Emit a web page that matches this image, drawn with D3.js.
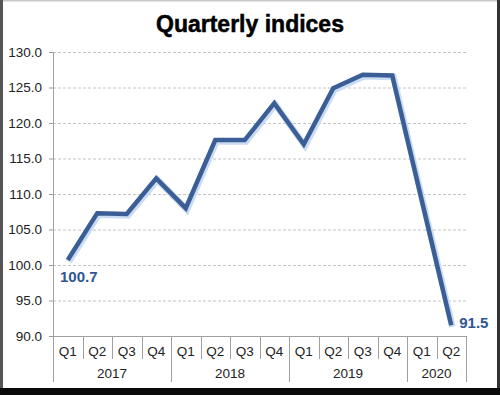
<!doctype html>
<html>
<head>
    <style>
        body { margin: 0; background: #fff; }
        svg { display: block; }
        text { font-family: "Liberation Sans", Arial, sans-serif; }
    </style>
    <script src="https://d3js.org/d3.v7.min.js"></script>
</head>
<body>
    <svg width="500" height="395"></svg>
    <script>
        var years = ["2017", "2018", "2019", "2020"];
        var quarters = ["Q1", "Q2", "Q3", "Q4", "Q1", "Q2", "Q3", "Q4", "Q1", "Q2", "Q3", "Q4", "Q1", "Q2"];
        var quarterYears = ["2017", "2017", "2017", "2017", "2018", "2018", "2018", "2018",
                            "2019", "2019", "2019", "2019", "2020", "2020"];
        var values = [100.7, 107.3, 107.2, 112.2, 108.0, 117.6, 117.6, 122.8,
                      117.0, 124.9, 126.8, 126.7, 109.1, 91.5];
        var yTicks = [90, 95, 100, 105, 110, 115, 120, 125, 130];

        var svg = d3.select("svg"),
            margin = { top: 52, right: 34, bottom: 59, left: 53 },
            width = 500 - margin.left - margin.right,
            height = 395 - margin.top - margin.bottom;

        // frame: dark edges and black band at the bottom
        svg.append("rect").attr("x", 0).attr("y", 0).attr("width", 500).attr("height", 395).attr("fill", "#fff");
        svg.append("rect").attr("x", 0).attr("y", 0).attr("width", 500).attr("height", 1.5).attr("fill", "#c8c8c8");
        svg.append("rect").attr("x", 0).attr("y", 0).attr("width", 3).attr("height", 395).attr("fill", "#555");
        svg.append("rect").attr("x", 497).attr("y", 0).attr("width", 3).attr("height", 395).attr("fill", "#333");
        svg.append("rect").attr("x", 0).attr("y", 388).attr("width", 500).attr("height", 7).attr("fill", "#0a0a0a");

        svg.append("text")
            .attr("x", 250).attr("y", 32)
            .attr("text-anchor", "middle")
            .attr("font-size", 23).attr("font-weight", "bold")
            .attr("fill", "#000").attr("stroke", "#000").attr("stroke-width", 0.5)
            .text("Quarterly indices");

        var g = svg.append("g")
            .attr("transform", "translate(" + margin.left + "," + margin.top + ")");

        var idx = d3.range(values.length);
        var x = d3.scaleBand().domain(idx).range([0, width]);
        var y = d3.scaleLinear().domain([90, 130]).range([height, 0]);

        // gridlines
        g.selectAll(".grid").data(yTicks.slice(1)).enter().append("line")
            .attr("x1", 0).attr("x2", width)
            .attr("y1", function (d) { return y(d) + 0.5; })
            .attr("y2", function (d) { return y(d) + 0.5; })
            .attr("stroke", "#c4c4c4").attr("stroke-dasharray", "3,2");

        // y axis
        var yAxis = g.append("g")
            .call(d3.axisLeft(y).tickValues(yTicks).tickSize(4).tickPadding(7)
                .tickFormat(d3.format(".1f")));
        yAxis.select(".domain").remove();
        yAxis.selectAll("line").attr("stroke", "#999");
        yAxis.selectAll("text").attr("font-size", 13.5).attr("fill", "#222")
            .attr("font-family", "Liberation Sans, Arial, sans-serif");
        g.append("line").attr("x1", 0.5).attr("x2", 0.5).attr("y1", 0).attr("y2", height + 46)
            .attr("stroke", "#a0a0a0");

        // x axis baseline and separators
        g.append("line").attr("x1", 0).attr("x2", width).attr("y1", height + 0.5).attr("y2", height + 0.5)
            .attr("stroke", "#a0a0a0");
        g.selectAll(".sep").data(d3.range(1, values.length + 1)).enter().append("line")
            .attr("x1", function (i) { return Math.round(i * x.bandwidth()) + 0.5; })
            .attr("x2", function (i) { return Math.round(i * x.bandwidth()) + 0.5; })
            .attr("y1", height)
            .attr("y2", function (i) {
                var end = i === values.length || quarterYears[i] !== quarterYears[i - 1];
                return end ? height + 46 : height + 23;
            })
            .attr("stroke", "#a0a0a0");

        g.selectAll(".qlab").data(idx).enter().append("text")
            .attr("x", function (i) { return x(i) + x.bandwidth() / 2; })
            .attr("y", height + 20)
            .attr("text-anchor", "middle")
            .attr("font-size", 13.5).attr("fill", "#222")
            .text(function (i) { return quarters[i]; });

        g.selectAll(".ylab").data(years).enter().append("text")
            .attr("x", function (yr) {
                var first = quarterYears.indexOf(yr), last = quarterYears.lastIndexOf(yr);
                return (x(first) + x(last) + x.bandwidth()) / 2;
            })
            .attr("y", height + 42)
            .attr("text-anchor", "middle")
            .attr("font-size", 13.5).attr("fill", "#222")
            .text(function (yr) { return yr; });

        // line with soft glow
        var line = d3.line()
            .x(function (d, i) { return x(i) + x.bandwidth() / 2; })
            .y(function (d) { return y(d); });

        g.append("path").datum(values)
            .attr("d", line)
            .attr("transform", "translate(1.2,1.5)")
            .attr("fill", "none").attr("stroke", "#c9dcf2").attr("stroke-width", 6.5)
            .attr("stroke-linejoin", "miter");
        g.append("path").datum(values)
            .attr("d", line)
            .attr("fill", "none").attr("stroke", "#3a5e95").attr("stroke-width", 4.5)
            .attr("stroke-linejoin", "miter");

        // end labels
        var last = values.length - 1;
        g.append("text")
            .attr("x", x(0) + 7).attr("y", y(values[0]) + 22)
            .attr("font-size", 15).attr("font-weight", "bold").attr("fill", "#2f5691")
            .text(values[0].toFixed(1));
        g.append("text")
            .attr("x", x(last) + x.bandwidth() / 2 + 8).attr("y", y(values[last]) + 3)
            .attr("font-size", 15).attr("font-weight", "bold").attr("fill", "#2f5691")
            .text(values[last].toFixed(1));
    </script>
</body>
</html>
